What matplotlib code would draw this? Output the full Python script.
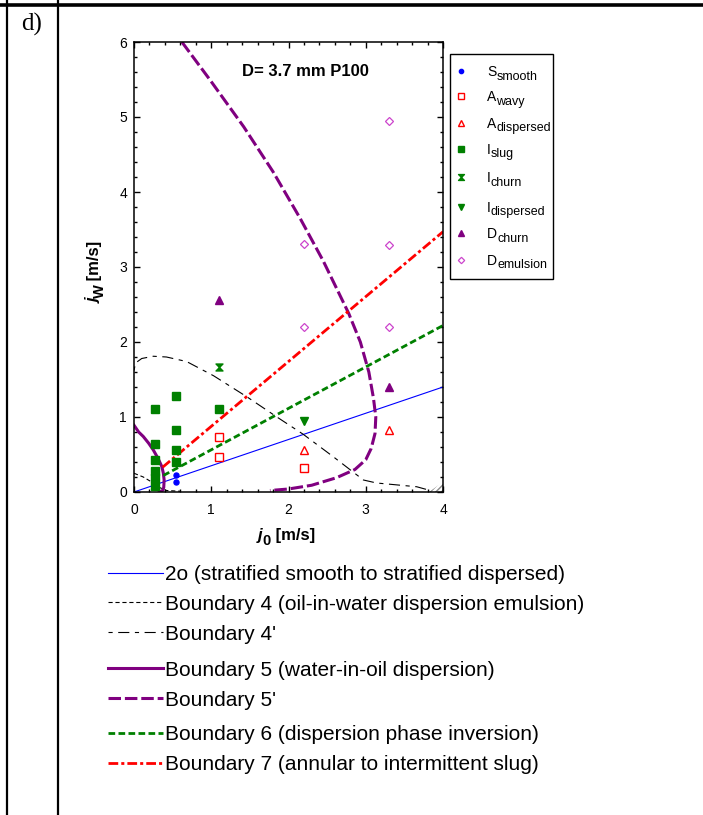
import matplotlib
matplotlib.use("Agg")
import matplotlib.pyplot as plt
from matplotlib.lines import Line2D
from matplotlib.path import Path
from matplotlib.font_manager import FontProperties
from matplotlib.patches import Polygon, Rectangle
from matplotlib.ticker import MultipleLocator

plt.rcParams['font.family'] = ['Liberation Sans', 'DejaVu Sans']
plt.rcParams['lines.scale_dashes'] = False

# ---------------- data ----------------
s_smooth_x = [0.55, 0.55]
s_smooth_y = [0.22, 0.13]
a_wavy_x = [1.1, 1.1, 2.2]
a_wavy_y = [0.73, 0.47, 0.32]
a_disp_x = [2.2, 3.3]
a_disp_y = [0.56, 0.82]
i_slug_x = [0.27, 0.27, 0.27, 0.27, 0.27, 0.27, 0.55, 0.55, 0.55, 0.55, 1.1]
i_slug_y = [1.10, 0.64, 0.42, 0.28, 0.18, 0.08, 1.28, 0.82, 0.56, 0.40, 1.10]
i_churn_x = [1.1]
i_churn_y = [1.66]
i_disp_x = [2.2]
i_disp_y = [0.95]
d_churn_x = [1.1, 3.3]
d_churn_y = [2.56, 1.40]
d_emul_x = [2.2, 2.2, 3.3, 3.3, 3.3]
d_emul_y = [3.31, 2.20, 4.95, 3.29, 2.20]

b2o_x = [0.0, 4.0]
b2o_y = [0.0, 1.40]
b4_x = [0.0, 0.12, 0.25, 0.33, 0.42, 0.6]
b4_y = [0.25, 0.20, 0.12, 0.06, 0.02, 0.01]
b4p_x = [0.0, 0.02, 0.10, 0.25, 0.42, 0.68, 1.03, 1.46, 1.85, 2.19, 2.58, 2.97, 3.14, 3.66, 3.80]
b4p_y = [1.62, 1.72, 1.78, 1.81, 1.80, 1.74, 1.55, 1.27, 1.00, 0.77, 0.47, 0.16, 0.12, 0.07, 0.03]
b5_x = [0.0, 0.06, 0.12, 0.19, 0.25, 0.31, 0.36, 0.38, 0.39, 0.385, 0.37, 0.33]
b5_y = [0.89, 0.80, 0.74, 0.65, 0.56, 0.45, 0.34, 0.25, 0.16, 0.06, 0.02, 0.0]
b5p_x = [0.62, 0.98, 1.42, 1.80, 2.15, 2.45, 2.62, 2.78, 2.93, 3.04, 3.10, 3.13, 3.12, 3.07, 3.00, 2.86, 2.62, 2.30, 2.00, 1.76]
b5p_y = [6.0, 5.5, 4.87, 4.27, 3.65, 3.08, 2.72, 2.38, 2.0, 1.6, 1.25, 1.0, 0.78, 0.58, 0.43, 0.30, 0.19, 0.09, 0.04, 0.02]
b6_x = [0.38, 4.0]
b6_y = [0.22, 2.22]
b7_x = [0.37, 4.0]
b7_y = [0.33, 3.47]

legend_main = ['S', 'A', 'A', 'I', 'I', 'I', 'D', 'D']
legend_sub = ['smooth', 'wavy', 'dispersed', 'slug', 'churn', 'dispersed', 'churn', 'emulsion']
line_labels = ['2o (stratified smooth to stratified dispersed)',
               'Boundary 4 (oil-in-water dispersion emulsion)',
               "Boundary 4'",
               'Boundary 5 (water-in-oil dispersion)',
               "Boundary 5'",
               'Boundary 6 (dispersion phase inversion)',
               'Boundary 7 (annular to intermittent slug)']

# ---------------- styles ----------------
PURPLE = '#800080'
hourglass = Path([(-1, 1), (1, 1), (0, 0), (1, -1), (-1, -1), (0, 0), (-1, 1)],
                 [Path.MOVETO, Path.LINETO, Path.LINETO, Path.LINETO, Path.LINETO, Path.LINETO, Path.CLOSEPOLY])
marker_styles = [
    dict(marker='o', color='#0000ff', mfc='#0000ff', ms=3.6),
    dict(marker='s', color='#ff0000', mfc='white', ms=5.2, mew=1.0),
    dict(marker='^', color='#ff0000', mfc='white', ms=5.2, mew=1.0),
    dict(marker='s', color='#008000', mfc='#008000', ms=5.4),
    dict(marker=hourglass, color='#008000', mfc='#008000', ms=5),
    dict(marker='v', color='#008000', mfc='#008000', ms=5.6),
    dict(marker='^', color=PURPLE, mfc=PURPLE, ms=5.6),
    dict(marker='D', color='#cc44cc', mfc='white', ms=3.8, mew=0.9),
]
line_styles = [
    dict(color='#0000ff', lw=0.8, ls='-'),
    dict(color='black', lw=0.8, dashes=(3, 2)),
    dict(color='black', lw=0.8, dashes=(3, 4, 8, 4)),
    dict(color=PURPLE, lw=2.2, ls='-'),
    dict(color=PURPLE, lw=2.2, dashes=(9, 2.8)),
    dict(color='#008000', lw=2.0, dashes=(4.8, 2.4)),
    dict(color='#ff0000', lw=2.0, dashes=(7, 2.2, 2.2, 2.2)),
]

W, H = 703, 815
fig = plt.figure(figsize=(W / 100, H / 100), dpi=100)
renderer = fig.canvas.get_renderer()


def fx(px):
    return px / W


def fy(py):
    return 1 - py / H


# table frame lines
fig.add_artist(Line2D([fx(0), fx(W)], [fy(5), fy(5)], color='black', lw=2.6, transform=fig.transFigure))
fig.add_artist(Line2D([fx(7), fx(7)], [fy(0), fy(H)], color='black', lw=1.6, transform=fig.transFigure))
fig.add_artist(Line2D([fx(58), fx(58)], [fy(0), fy(H)], color='black', lw=1.6, transform=fig.transFigure))
fig.text(fx(21), fy(31), 'd)', family='Liberation Serif', fontsize=18, ha='left', va='baseline')

# ---------------- main axes ----------------
ax = fig.add_axes([fx(134), fy(492), (443 - 134) / W, (492 - 42) / H])
ax.set_xlim(0, 4)
ax.set_ylim(0, 6)

series = [(s_smooth_x, s_smooth_y), (a_wavy_x, a_wavy_y), (a_disp_x, a_disp_y), (i_slug_x, i_slug_y),
          (i_churn_x, i_churn_y), (i_disp_x, i_disp_y), (d_churn_x, d_churn_y), (d_emul_x, d_emul_y)]
lines = [(b2o_x, b2o_y), (b4_x, b4_y), (b4p_x, b4p_y), (b5_x, b5_y), (b5p_x, b5p_y), (b6_x, b6_y), (b7_x, b7_y)]

for (x, y), st in zip(lines, line_styles):
    ax.plot(x, y, **st, zorder=2)
for (x, y), st in zip(series, marker_styles):
    ax.plot(x, y, ls='none', zorder=3, **st)

# small hatched corner decoration
ax.add_patch(Polygon([(0.955, 0.0), (1.0, 0.0), (1.0, 0.022)], closed=True, transform=ax.transAxes,
                     facecolor='none', edgecolor='#888888', hatch='//////', lw=0, zorder=1))

ax.xaxis.set_major_locator(MultipleLocator(1))
ax.yaxis.set_major_locator(MultipleLocator(1))
ax.xaxis.set_minor_locator(MultipleLocator(0.2))
ax.yaxis.set_minor_locator(MultipleLocator(0.2))
ax.tick_params(which='both', direction='in', top=True, right=True, width=1.0)
ax.tick_params(which='major', length=4.5, labelsize=10)
ax.tick_params(axis='x', which='major', pad=8)
ax.tick_params(axis='y', which='major', pad=5)
ax.tick_params(which='minor', length=2.5)
for sp in ax.spines.values():
    sp.set_linewidth(1.1)

ax.text(0.555, 0.935, 'D= 3.7 mm P100', transform=ax.transAxes, ha='center', va='center',
        fontsize=12, fontweight='bold')


# ---------------- text with large subscripts ----------------
def sub_text(x, y, parts, rotation=0):
    cur = 0.0
    for s, fp, drop in parts:
        if rotation == 0:
            fig.text(fx(x + cur), fy(y + drop), s, fontproperties=fp, ha='left', va='baseline')
        else:
            fig.text(fx(x + drop), fy(y - cur), s, fontproperties=fp, ha='left', va='baseline',
                     rotation=90, rotation_mode='anchor')
        w, h, d = renderer.get_text_width_height_descent(s, fp, ismath=False)
        cur += w


fp_lab = FontProperties(family='Liberation Sans', weight='bold', size=12)
fp_labj = FontProperties(family='Liberation Sans', weight='bold', style='italic', size=12)
fp_labs = FontProperties(family='Liberation Sans', weight='bold', size=10.5)
sub_text(258, 540, [('j', fp_labj, 0), ('0', fp_labs, 5), (' [m/s]', fp_lab, 0)])
sub_text(99, 303, [('j', fp_labj, 0), ('W', fp_labs, 5), (' [m/s]', fp_lab, 0)], rotation=90)

# ---------------- marker legend box ----------------
fig.add_artist(Rectangle((fx(450), fy(279)), (553 - 450) / W, (279 - 54) / H, transform=fig.transFigure,
                         facecolor='none', edgecolor='black', lw=1.0))
leg_rows = [71, 96, 123, 149, 177, 207, 233, 260]
fp_m = FontProperties(family='Liberation Sans', size=10)
fp_s = FontProperties(family='Liberation Sans', size=9)
for r, st, m, s in zip(leg_rows, marker_styles, legend_main, legend_sub):
    st2 = dict(st)
    st2['ms'] = st['ms'] * 0.85
    fig.add_artist(Line2D([fx(461)], [fy(r)], ls='none', transform=fig.transFigure, **st2))
    sub_text(487, r + 5, [(m, fp_m, 0), (s, fp_s, 3.5)])

# ---------------- line legend ----------------
line_rows = [573, 602, 632, 668, 698, 733, 763]
for r, st, lab in zip(line_rows, line_styles, line_labels):
    fig.add_artist(Line2D([fx(108), fx(163)], [fy(r), fy(r)], transform=fig.transFigure, **st))
    fig.text(fx(165), fy(r + 7.5), lab, fontsize=15, ha='left', va='baseline')

fig.savefig('out.png', dpi=100)
